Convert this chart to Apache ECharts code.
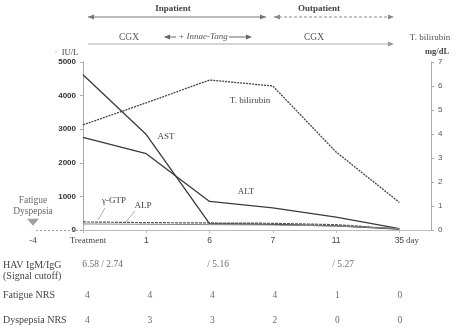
<!DOCTYPE html>
<html>
<head>
<meta charset="utf-8">
<script src="https://cdn.jsdelivr.net/npm/echarts@6/dist/echarts.min.js"></script>
<style>
  html, body { margin: 0; padding: 0; background: #fff; }
  #main { width: 459px; height: 335px; }
</style>
</head>
<body>
<div id="main"></div>
<script>
// time points (day after start of treatment)
const days = ['Treatment', '1', '6', '7', '11', '35'];
const xPos = [0, 1, 2, 3, 4, 5];
const preX = -0.79; // day -4, before treatment
const preLabel = '-4';

// liver tests, IU/L
const ast = [4620, 2840, 190, 170, 120, 30];
const alt = [2760, 2270, 850, 660, 380, 40];
const ggt = [240, 220, 210, 200, 160, 30];
const alp = [180, 170, 160, 150, 120, 40];
// total bilirubin, mg/dL
const tbil = [4.38, 5.3, 6.25, 6.0, 3.25, 1.15];

// table under the chart
const tableRows = ['HAV IgM/IgG\n(Signal cutoff)', 'Fatigue NRS', 'Dyspepsia NRS'];
const havRatio = ['6.58 / 2.74', '', '/ 5.16', '', '/ 5.27', ''];
const fatigueNRS = [4, 4, 4, 4, 1, 0];
const dyspepsiaNRS = [4, 3, 3, 2, 0, 0];

const serif = '"Liberation Serif", "DejaVu Serif", serif';
const sans = '"Liberation Sans", "DejaVu Sans", sans-serif';

function pairs(vals) {
  return xPos.map((x, i) => [x, vals[i]]);
}

function rowCells(vals, row) {
  return xPos.map((x, i) => [x, row, vals[i]]);
}

// small arrow head, dir = 1 points right, -1 points left
function head(x, y, dir, color) {
  return {
    type: 'polygon',
    shape: { points: [[x, y], [x - dir * 6, y - 2.5], [x - dir * 6, y + 2.5]] },
    style: { fill: color }
  };
}

function hline(x1, x2, y, color, dash) {
  return {
    type: 'line',
    shape: { x1: x1, y1: y, x2: x2, y2: y },
    style: { stroke: color, lineWidth: 1, lineDash: dash || null }
  };
}

function txt(t, x, y, opts) {
  opts = opts || {};
  return {
    type: 'text',
    style: {
      text: t, x: x, y: y,
      fill: opts.color || '#444',
      font: (opts.style || '') + ' ' + (opts.weight || 'normal') + ' ' + (opts.size || 9) + 'px ' + (opts.family || serif),
      align: opts.align || 'center', textAlign: opts.align || 'center',
      verticalAlign: 'middle', textVerticalAlign: 'middle'
    }
  };
}

function cellLabel(extra) {
  return Object.assign({
    show: true, position: 'inside',
    formatter: p => p.value[2], fontFamily: serif, fontSize: 9.5, color: '#444'
  }, extra || {});
}

const chart = echarts.init(document.getElementById('main'), null, { renderer: 'canvas' });

const option = {
  animation: false,
  backgroundColor: '#fff',
  grid: [
    { left: 83, right: 28, top: 62, bottom: 105 },   // lab values
    { left: 26, width: 57, top: 62, bottom: 105 },   // day -4, before treatment
    { left: 26, right: 28, top: 258, bottom: 2 }     // table
  ],
  xAxis: [
    {
      type: 'value', gridIndex: 0, min: 0, max: 5.5,
      splitLine: { show: false },
      axisLine: { show: true, lineStyle: { color: '#bbb' } },
      axisTick: { show: true, length: 3, customValues: xPos, lineStyle: { color: '#bbb' } },
      axisLabel: {
        customValues: xPos,
        margin: 6, fontSize: 8.5, color: '#444', fontFamily: sans,
        formatter: function (v) {
          const d = days[Math.round(v)];
          return d === 'Treatment' ? '{s|' + d + '}' : d;
        },
        rich: { s: { fontFamily: serif, fontSize: 9, color: '#444', padding: [0, 0, 0, 10] } }
      }
    },
    {
      type: 'value', gridIndex: 1, min: -0.9, max: 0,
      splitLine: { show: false },
      axisLine: { show: false },
      axisTick: { show: false },
      axisLabel: {
        customValues: [preX], margin: 6,
        formatter: () => preLabel, fontFamily: serif, fontSize: 9, color: '#444'
      }
    },
    { type: 'value', gridIndex: 2, min: -0.9, max: 5.5, show: false }
  ],
  yAxis: [
    {
      type: 'value', gridIndex: 0, min: 0, max: 5000, interval: 1000,
      splitLine: { show: false },
      axisLine: { show: true, lineStyle: { color: '#aaa' } },
      axisTick: { show: true, length: 3, lineStyle: { color: '#aaa' } },
      axisLabel: {
        margin: 7, fontSize: 8, fontWeight: 'bold', color: '#333', fontFamily: sans,
        formatter: v => String(v)
      }
    },
    {
      type: 'value', gridIndex: 0, min: 0, max: 7, interval: 1, position: 'right',
      splitLine: { show: false },
      axisLine: { show: true, lineStyle: { color: '#aaa' } },
      axisTick: { show: true, length: 3, lineStyle: { color: '#aaa' } },
      axisLabel: { margin: 7, fontSize: 8, color: '#555', fontFamily: sans }
    },
    {
      type: 'category', gridIndex: 2, data: tableRows, inverse: true,
      axisLine: { show: false }, axisTick: { show: false },
      axisLabel: {
        align: 'left', margin: 28, fontSize: 10, lineHeight: 11,
        color: '#444', fontFamily: serif
      }
    },
    { type: 'value', gridIndex: 1, min: 0, max: 5000, show: false }
  ],
  series: [
    {
      name: 'AST', type: 'line', data: pairs(ast), showSymbol: false,
      lineStyle: { color: '#3a3a3a', width: 1.3 }
    },
    {
      name: 'ALT', type: 'line', data: pairs(alt), showSymbol: false,
      lineStyle: { color: '#3a3a3a', width: 1.3 }
    },
    {
      name: 'γ-GTP', type: 'line', data: pairs(ggt), showSymbol: false,
      lineStyle: { color: '#555', width: 1.2, type: [3, 1] }
    },
    {
      name: 'ALP', type: 'line', data: pairs(alp), showSymbol: false,
      lineStyle: { color: '#888', width: 1 }
    },
    {
      name: 'T. bilirubin', type: 'line', yAxisIndex: 1, data: pairs(tbil), showSymbol: false,
      lineStyle: { color: '#444', width: 1.3, type: [2, 1] }
    },
    {
      // fatigue / dyspepsia onset marker at day -4
      name: 'onset', type: 'scatter', xAxisIndex: 1, yAxisIndex: 3,
      data: [[preX, 230]],
      symbol: 'triangle', symbolRotate: 180, symbolSize: [12, 7],
      itemStyle: { color: '#8a8a8a' },
      label: {
        show: true, position: 'top', distance: 2,
        formatter: 'Fatigue\nDyspepsia',
        fontFamily: serif, fontSize: 9.5, lineHeight: 11, color: '#444'
      },
      markLine: {
        silent: true, symbol: 'none', label: { show: false },
        lineStyle: { color: '#999', type: [2, 2], width: 1 },
        data: [[{ coord: [preX + 0.05, 0] }, { coord: [0, 0] }]]
      }
    },
    {
      name: 'hav', type: 'scatter', xAxisIndex: 2, yAxisIndex: 2,
      data: rowCells(havRatio, 0), symbolSize: 0,
      label: cellLabel({ align: 'left', offset: [-5, -6] })
    },
    {
      name: 'fatigue', type: 'scatter', xAxisIndex: 2, yAxisIndex: 2,
      data: rowCells(fatigueNRS, 1), symbolSize: 0,
      label: cellLabel()
    },
    {
      name: 'dyspepsia', type: 'scatter', xAxisIndex: 2, yAxisIndex: 2,
      data: rowCells(dyspepsiaNRS, 2), symbolSize: 0,
      label: cellLabel()
    }
  ],
  graphic: [
    // treatment period bars
    txt('Inpatient', 173, 9, { weight: 'bold' }),
    hline(88, 266, 17, '#777'), head(88, 17, -1, '#777'), head(266, 17, 1, '#777'),
    txt('Outpatient', 319, 9, { weight: 'bold' }),
    hline(274, 394, 17, '#888', [3, 2]), head(274, 17, -1, '#888'), head(394, 17, 1, '#888'),
    txt('CGX', 129, 37, { color: '#555', size: 9.5 }),
    hline(165, 176, 37, '#666'), head(164, 37, -1, '#666'),
    txt('+ Innae-Tang', 203, 37, { style: 'italic', color: '#555' }),
    hline(229, 250, 37, '#666'), head(252, 37, 1, '#666'),
    txt('CGX', 314, 37, { color: '#555', size: 9.5 }),
    hline(88, 392, 44, '#aaa'), head(394, 44, 1, '#999'),
    txt('T. bilirubin', 430, 38, { color: '#555' }),
    // axis units
    txt('IU/L', 70, 53, { size: 8.5, color: '#444' }),
    txt('-', 56, 52, { size: 8, color: '#aaa' }),
    txt('mg/dL', 437, 52, { size: 8.5, weight: 'bold', color: '#444' }),
    txt('day', 406, 241, { align: 'left', color: '#444' }),
    // series annotations
    txt('AST', 166, 137, { color: '#444' }),
    txt('ALT', 246, 192, { color: '#444' }),
    txt('T. bilirubin', 250, 101, { color: '#444' }),
    txt('γ-GTP', 114, 201, { color: '#444' }),
    {
      type: 'line', shape: { x1: 105, y1: 208, x2: 98, y2: 220 },
      style: { stroke: '#999', lineWidth: 0.8 }
    },
    txt('ALP', 143, 206, { color: '#444' }),
    {
      type: 'line', shape: { x1: 135, y1: 211, x2: 125, y2: 223 },
      style: { stroke: '#999', lineWidth: 0.8 }
    }
  ]
};

chart.setOption(option);
</script>
</body>
</html>
